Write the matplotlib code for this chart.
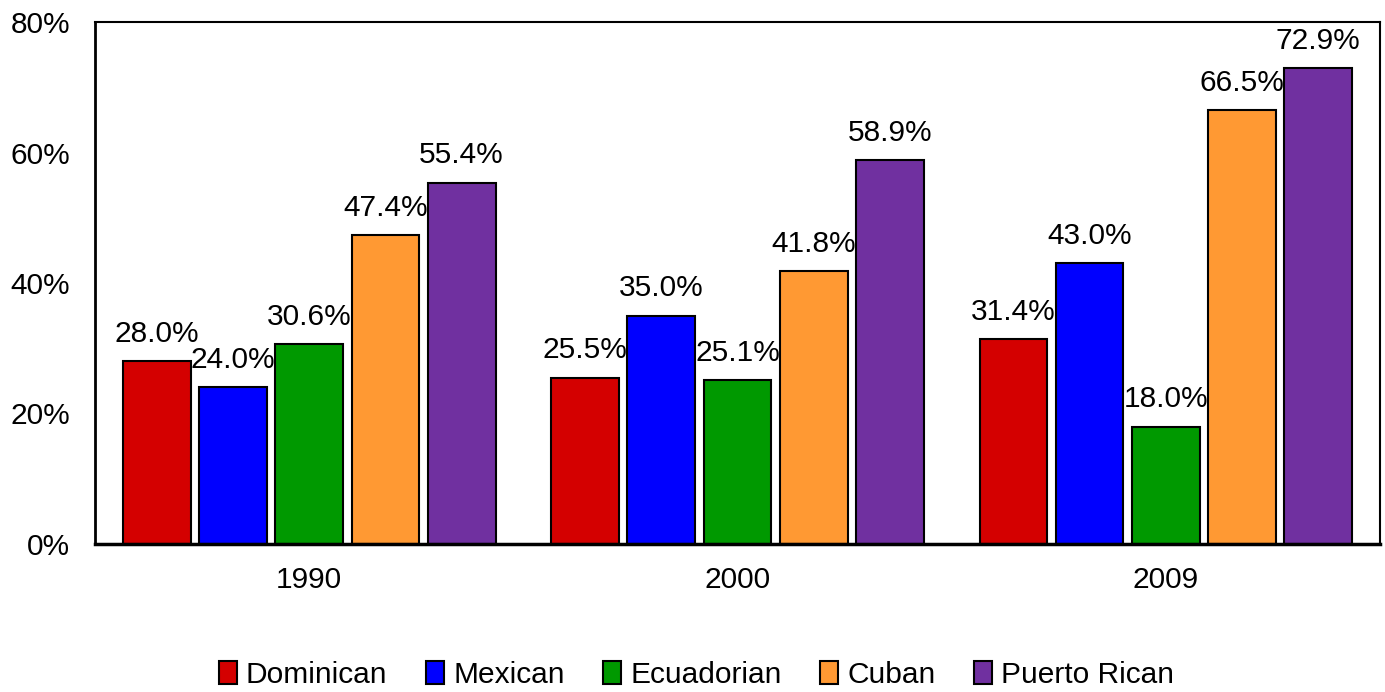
import numpy as np
import matplotlib.pyplot as plt

years = ["1990", "2000", "2009"]
groups = ["Dominican", "Mexican", "Ecuadorian", "Cuban", "Puerto Rican"]
dominican = [28.0, 25.5, 31.4]
mexican = [24.0, 35.0, 43.0]
ecuadorian = [30.6, 25.1, 18.0]
cuban = [47.4, 41.8, 66.5]
puerto_rican = [55.4, 58.9, 72.9]
colors = ["#D40000", "#0000FF", "#009900", "#FF9933", "#7030A0"]

plt.rcParams['font.family'] = ['Liberation Sans', 'DejaVu Sans']

fig = plt.figure(figsize=(13.85, 6.92), dpi=100)
ax = fig.add_axes([0.0686, 0.214, 0.9278, 0.754])

series = [dominican, mexican, ecuadorian, cuban, puerto_rican]
x = np.arange(len(years))
step = 0.178
width = 0.158

for i, (name, vals, col) in enumerate(zip(groups, series, colors)):
    pos = x + (i - 2) * step
    bars = ax.bar(pos, vals, width, color=col, edgecolor="black",
                  linewidth=1.5, label=name)
    for b, v in zip(bars, vals):
        ax.annotate(f"{v:.1f}%", (b.get_x() + b.get_width() / 2, v),
                    xytext=(0, 9.5), textcoords="offset points",
                    ha="center", va="bottom", fontsize=21.5)

ax.set_xlim(-0.5, 2.5)
ax.set_ylim(0, 80)
ax.set_yticks([0, 20, 40, 60, 80])
ax.set_yticklabels(["0%", "20%", "40%", "60%", "80%"])
ax.set_xticks(x)
ax.set_xticklabels(years)
ax.tick_params(axis="both", length=0, labelsize=21.5)
ax.tick_params(axis="y", pad=18)
ax.tick_params(axis="x", pad=16)
for s in ax.spines.values():
    s.set_linewidth(1.5)
ax.spines["left"].set_linewidth(2)
ax.spines["bottom"].set_linewidth(2.5)

fig.legend(loc="center", bbox_to_anchor=(0.503, 0.025), ncol=5, frameon=False,
           fontsize=21.5, handlelength=0.6, handleheight=0.8, handletextpad=0.3,
           columnspacing=1.3)

plt.savefig("out.png", dpi=100)
